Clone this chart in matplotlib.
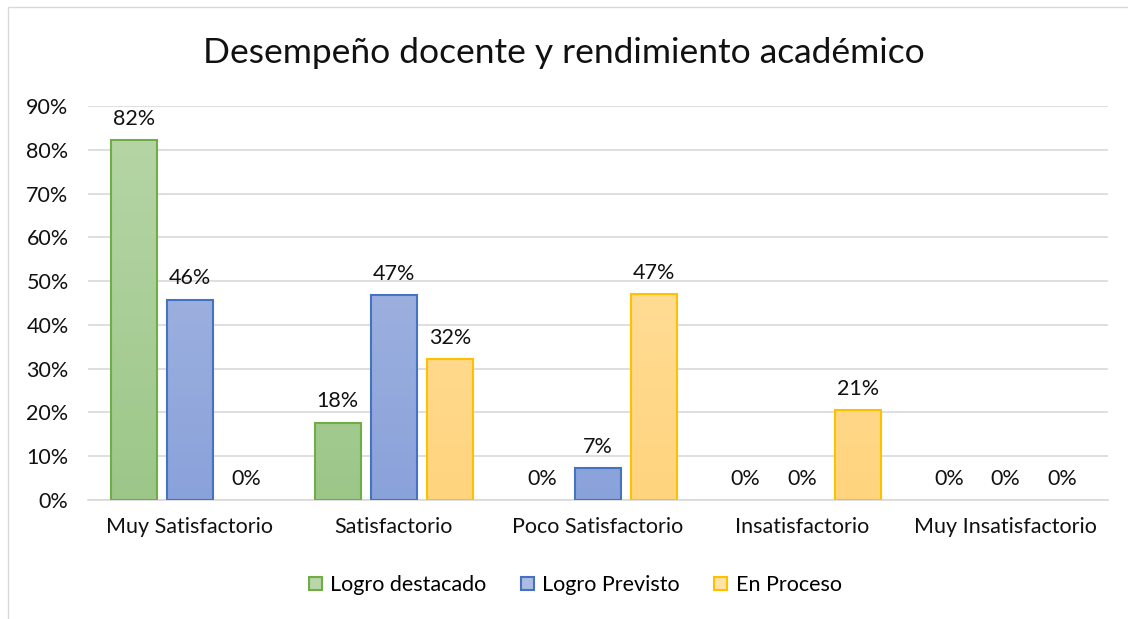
import matplotlib
matplotlib.use("Agg")
import matplotlib.pyplot as plt
import numpy as np
from matplotlib.patches import Rectangle
from matplotlib.colors import LinearSegmentedColormap

categories = ["Muy Satisfactorio", "Satisfactorio", "Poco Satisfactorio", "Insatisfactorio", "Muy Insatisfactorio"]
series_names = ["Logro destacado", "Logro Previsto", "En Proceso"]
logro_destacado = [0.823, 0.177, 0.0, 0.0, 0.0]
logro_previsto = [0.458, 0.468, 0.074, 0.0, 0.0]
en_proceso = [0.0, 0.323, 0.471, 0.206, 0.0]
yticks = [0, 0.1, 0.2, 0.3, 0.4, 0.5, 0.6, 0.7, 0.8, 0.9]

series = [logro_destacado, logro_previsto, en_proceso]
edges = ["#70AD47", "#4472C4", "#FFC000"]
tops = ["#B8D6A8", "#ADBCE3", "#FFE2A6"]
bots = ["#9CC789", "#8AA2DA", "#FFD47E"]

plt.rcParams['font.family'] = ['Lato', 'DejaVu Sans']
FS = 15.5
TC = "#111111"

fig = plt.figure(figsize=(11.28, 6.19), dpi=100)
ax = fig.add_axes([0.078, 0.1922, 0.904, 0.6365])

# chart border
fig.patches.append(Rectangle((8/1128, -0.1), 1.2, (619-7)/619 + 0.1, transform=fig.transFigure,
                             fill=False, edgecolor="#D9D9D9", linewidth=1.0))

x = np.arange(len(categories))
w = 0.225
step = 0.275
for i, (vals, ec, tc, bc, name) in enumerate(zip(series, edges, tops, bots, series_names)):
    pos = x + (i - 1) * step
    bars = ax.bar(pos, vals, width=w, facecolor=bc, edgecolor="none", linewidth=0, label=name, zorder=3)
    cmap = LinearSegmentedColormap.from_list("g%d" % i, [bc, tc])
    grad = np.linspace(0, 1, 256).reshape(-1, 1)
    for b, v in zip(bars, vals):
        if v > 0:
            im = ax.imshow(grad, cmap=cmap, origin="lower", aspect="auto",
                           extent=[b.get_x(), b.get_x() + b.get_width(), 0, 0.9],
                           zorder=3.5, interpolation="bilinear")
            im.set_clip_path(b)
            bb = Rectangle((b.get_x(), 0), b.get_width(), v, fill=False, edgecolor=ec,
                           linewidth=1.5, zorder=4)
            ax.add_patch(bb)
        ax.annotate("%d%%" % round(v * 100), (b.get_x() + b.get_width() / 2, v),
                    xytext=(0, 8), textcoords="offset points", ha="center", va="bottom",
                    fontsize=FS, color=TC)

ax.set_xlim(-0.5, len(categories) - 0.5)
ax.set_ylim(0, 0.9)
ax.set_yticks(yticks)
ax.set_yticklabels(["%d%%" % round(t * 100) for t in yticks], fontsize=FS, color=TC)
ax.set_xticks(x)
ax.set_xticklabels(categories, fontsize=FS, color=TC)
ax.tick_params(axis="both", length=0)
ax.tick_params(axis="x", pad=12)
ax.tick_params(axis="y", pad=14)
ax.grid(axis="y", color="#D9D9D9", linewidth=1.2, zorder=0)
ax.set_axisbelow(True)
for s in ["top", "right", "left"]:
    ax.spines[s].set_visible(False)
ax.spines["bottom"].set_color("#D9D9D9")
ax.spines["bottom"].set_linewidth(1.2)

fig.text(0.5, (619 - 53) / 619, "Desempeño docente y rendimiento académico", ha="center", va="center",
         fontsize=25.5, color=TC)

handles = [Rectangle((0, 0), 1, 1, facecolor=tc, edgecolor=ec, linewidth=1.5) for tc, ec in zip(tops, edges)]
fig.legend(handles, series_names, loc="center", bbox_to_anchor=(0.51, (619 - 585) / 619), ncol=3,
           frameon=False, fontsize=FS, handlelength=0.6, handleheight=0.6, handletextpad=0.4,
           columnspacing=1.6)

fig.savefig("out.png", dpi=100, facecolor="white")
